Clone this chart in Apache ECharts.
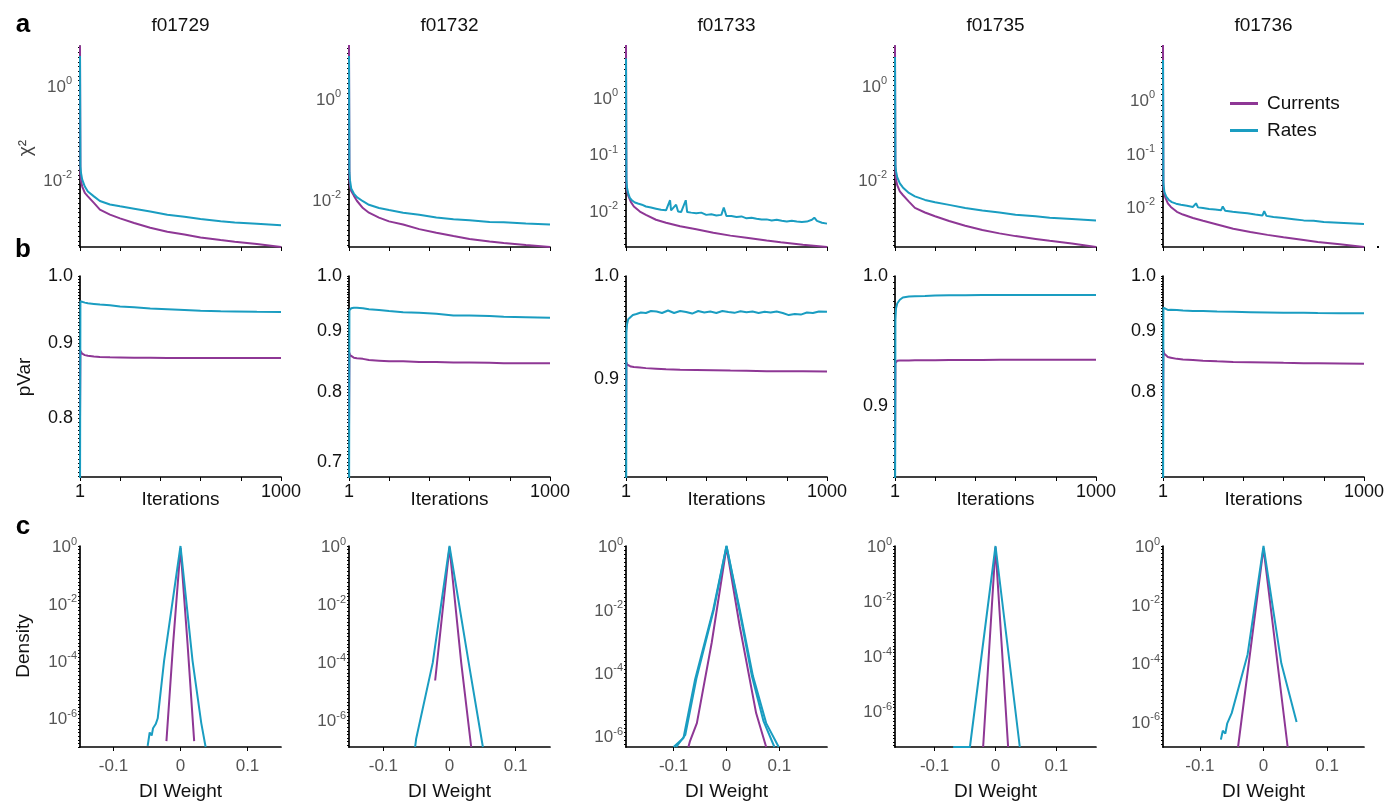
<!DOCTYPE html>
<html><head><meta charset="utf-8">
<script src="https://cdn.jsdelivr.net/npm/echarts@6/dist/echarts.min.js"></script>
<style>html,body{margin:0;padding:0;background:#fff}#c{width:1394px;height:806px}</style>
</head><body><div id="c"></div><script>
// ---------------- DATA ----------------
const titles = ['f01729', 'f01732', 'f01733', 'f01735', 'f01736'];
const seriesNames = ['Currents', 'Rates'];

// iteration grid shared by smooth curves
const iterGrid = [1, 3, 6, 12, 25, 40, 70, 100, 150, 200, 270, 350, 435, 520, 600, 700, 770, 880, 1000];

// row a: chi^2
const chi2Cur_f01729 = [7.0, 0.0126, 0.0093, 0.0071, 0.0052, 0.0044, 0.0032, 0.0023, 0.0018, 0.0015, 0.0012, 0.00095, 0.00078, 0.00068, 0.00059, 0.00052, 0.00048, 0.00043, 0.00037];
const chi2Rat_f01729 = [4.2, 0.019, 0.0138, 0.010, 0.0071, 0.0056, 0.0044, 0.0035, 0.00295, 0.0027, 0.0024, 0.0021, 0.0018, 0.00162, 0.00145, 0.0013, 0.00123, 0.00115, 0.00107];
const chi2Cur_f01732 = [12, 0.025, 0.019, 0.0148, 0.012, 0.0095, 0.0068, 0.0055, 0.0044, 0.0037, 0.0032, 0.0026, 0.0022, 0.0019, 0.00166, 0.00148, 0.00138, 0.00126, 0.00115];
const chi2Rat_f01732 = [7.0, 0.035, 0.024, 0.0166, 0.0132, 0.0112, 0.0093, 0.0079, 0.0068, 0.0062, 0.0055, 0.0050, 0.0044, 0.0041, 0.0039, 0.0036, 0.00355, 0.00335, 0.0032];
const chi2Cur_f01733 = [9, 0.028, 0.0224, 0.0182, 0.0141, 0.0117, 0.0095, 0.0083, 0.0068, 0.0060, 0.0052, 0.0046, 0.0040, 0.00355, 0.00325, 0.0029, 0.0027, 0.00245, 0.00224];
const chi2RatIter_f01733 = [1, 3, 6, 12, 20, 30, 45, 60, 80, 100, 125, 150, 175, 200, 220, 225, 250, 260, 275, 298, 305, 325, 350, 375, 400, 425, 450, 475, 487, 500, 525, 550, 575, 600, 625, 650, 675, 700, 725, 750, 775, 800, 825, 850, 875, 900, 925, 937, 950, 975, 1000];
const chi2Rat_f01733 = [5.0, 0.0355, 0.0251, 0.020, 0.0166, 0.0151, 0.0138, 0.0132, 0.0126, 0.0117, 0.0112, 0.0107, 0.0102, 0.0100, 0.0151, 0.0100, 0.0126, 0.0095, 0.0093, 0.0151, 0.0093, 0.0091, 0.0089, 0.0091, 0.0083, 0.0085, 0.0081, 0.0083, 0.0112, 0.0079, 0.0079, 0.0076, 0.0078, 0.0072, 0.0074, 0.0071, 0.0069, 0.0069, 0.0066, 0.0068, 0.0065, 0.0063, 0.0065, 0.0063, 0.0062, 0.0063, 0.0068, 0.0074, 0.0065, 0.0060, 0.0058];
const chi2Cur_f01735 = [7.1, 0.0141, 0.010, 0.0076, 0.0056, 0.0047, 0.0034, 0.0025, 0.0020, 0.00166, 0.00132, 0.00105, 0.00085, 0.00072, 0.00063, 0.00055, 0.00050, 0.00044, 0.00037];
const chi2Rat_f01735 = [4.0, 0.020, 0.0151, 0.0112, 0.0083, 0.0068, 0.0052, 0.0044, 0.0037, 0.0033, 0.0029, 0.0025, 0.0022, 0.0020, 0.0018, 0.00166, 0.00155, 0.00145, 0.00135];
const chi2Cur_f01736 = [11, 0.024, 0.019, 0.0151, 0.0117, 0.010, 0.0081, 0.0072, 0.0062, 0.0055, 0.0047, 0.0039, 0.0034, 0.0030, 0.0027, 0.0024, 0.0022, 0.0020, 0.00178];
const chi2RatIter_f01736 = [1, 3, 8, 17, 30, 45, 66, 90, 120, 150, 165, 175, 200, 230, 260, 290, 298, 310, 347, 380, 420, 460, 495, 504, 515, 550, 600, 650, 700, 750, 800, 850, 900, 950, 1000];
const chi2Rat_f01736 = [5.6, 0.0275, 0.019, 0.0155, 0.0135, 0.0123, 0.0115, 0.011, 0.0105, 0.010, 0.0117, 0.0098, 0.0095, 0.0091, 0.0089, 0.0087, 0.0102, 0.0085, 0.0081, 0.0079, 0.0076, 0.0072, 0.0069, 0.0083, 0.0068, 0.0065, 0.0062, 0.0059, 0.0056, 0.0055, 0.0052, 0.0051, 0.0050, 0.0049, 0.0048];

// row b: pVar
const pvCur_f01729 = [0.80, 0.889, 0.887, 0.885, 0.883, 0.882, 0.881, 0.8805, 0.880, 0.8798, 0.8795, 0.8793, 0.879, 0.879, 0.879, 0.879, 0.879, 0.879, 0.879];
const pvRat_f01729 = [0.70, 0.961, 0.960, 0.9595, 0.959, 0.958, 0.957, 0.956, 0.955, 0.953, 0.952, 0.950, 0.949, 0.948, 0.947, 0.946, 0.9458, 0.9453, 0.945];
const pvCur_f01732 = [0.75, 0.863, 0.859, 0.857, 0.855, 0.854, 0.853, 0.851, 0.850, 0.849, 0.849, 0.848, 0.848, 0.847, 0.847, 0.8465, 0.846, 0.846, 0.846];
const pvRat_f01732 = [0.60, 0.936, 0.939, 0.940, 0.941, 0.941, 0.940, 0.938, 0.937, 0.935, 0.933, 0.932, 0.930, 0.927, 0.927, 0.926, 0.925, 0.924, 0.923];
const pvCur_f01733 = [0.85, 0.916, 0.914, 0.913, 0.912, 0.9115, 0.911, 0.9105, 0.910, 0.9095, 0.909, 0.9088, 0.9086, 0.9082, 0.908, 0.9076, 0.9075, 0.9075, 0.9074];
const pvRatIter_f01733 = [1, 3, 6, 12, 20, 35, 53, 75, 100, 125, 153, 180, 210, 240, 270, 300, 330, 360, 390, 420, 450, 480, 510, 540, 570, 600, 630, 660, 690, 720, 750, 780, 810, 840, 870, 900, 930, 960, 1000];
const pvRat_f01733 = [0.70, 0.944, 0.952, 0.957, 0.958, 0.961, 0.962, 0.9635, 0.963, 0.965, 0.9645, 0.963, 0.9655, 0.963, 0.965, 0.964, 0.9625, 0.965, 0.9635, 0.9645, 0.963, 0.965, 0.964, 0.9632, 0.9648, 0.9638, 0.9645, 0.963, 0.9642, 0.9635, 0.9645, 0.963, 0.961, 0.962, 0.9615, 0.9635, 0.963, 0.9645, 0.9642];
const pvCur_f01735 = [0.86, 0.932, 0.9335, 0.9338, 0.934, 0.934, 0.934, 0.9341, 0.9342, 0.9342, 0.9343, 0.9344, 0.9344, 0.9345, 0.9345, 0.9345, 0.9346, 0.9346, 0.9346];
const pvRat_f01735 = [0.80, 0.965, 0.974, 0.978, 0.981, 0.9828, 0.9835, 0.9838, 0.984, 0.9843, 0.9845, 0.9846, 0.9847, 0.9847, 0.9848, 0.9848, 0.9848, 0.9848, 0.9848];
const pvCur_f01736 = [0.75, 0.868, 0.862, 0.859, 0.856, 0.855, 0.853, 0.852, 0.851, 0.850, 0.849, 0.848, 0.8475, 0.847, 0.8465, 0.846, 0.846, 0.8455, 0.845];
const pvRat_f01736 = [0.60, 0.941, 0.939, 0.938, 0.937, 0.9375, 0.937, 0.936, 0.935, 0.935, 0.934, 0.9335, 0.933, 0.9325, 0.932, 0.932, 0.9315, 0.931, 0.931];

// row c: density of DI weights, [weight, density]
const densCur_f01729 = [[-0.021, 1.6e-7], [-0.011, 4e-4], [0, 0.85], [0.0105, 4e-4], [0.0204, 1.6e-7]];
const densRat_f01729 = [[-0.049, 1.1e-7], [-0.046, 3.2e-7], [-0.043, 2.5e-7], [-0.041, 4.5e-7], [-0.037, 6.3e-7], [-0.034, 1e-6], [-0.0245, 1e-4], [0, 1], [0.018, 1e-4], [0.031, 6.8e-7], [0.0375, 1e-7]];
const densCur_f01732 = [[-0.0217, 2.3e-5], [-0.011, 4.5e-3], [0, 0.9], [0.0177, 9.5e-5], [0.0328, 1.17e-7]];
const densRat_f01732 = [[-0.052, 1.17e-7], [-0.0505, 2.2e-7], [-0.0253, 9.5e-5], [0, 1], [0.029, 9.5e-5], [0.0505, 1.17e-7]];
const densCur_f01733 = [[-0.072, 4.6e-7], [-0.069, 7.1e-7], [-0.056, 2.6e-6], [-0.028, 8.9e-4], [0, 0.9], [0.025, 2.95e-3], [0.056, 5.4e-6], [0.075, 4.6e-7]];
const densRat_f01733 = [[-0.1, 4.6e-7], [-0.0813, 8.9e-7], [-0.0594, 6.2e-5], [-0.025, 1e-2], [0, 1], [0.025, 1e-2], [0.05, 7.9e-5], [0.075, 2.6e-6], [0.0987, 4.6e-7]];
const densRat2_f01733 = [[-0.095, 4.6e-7], [-0.078, 1.1e-6], [-0.057, 6.5e-5], [-0.024, 1e-2], [0, 1], [0.024, 1e-2], [0.048, 8e-5], [0.07, 3e-6], [0.0906, 4.6e-7]];
const densCur_f01735 = [[-0.0203, 5e-8], [0, 0.9], [0.0207, 5e-8]];
const densRat_f01735 = [[-0.0695, 5e-8], [-0.042, 5e-8], [0, 1], [0.0399, 5e-8]];
const densCur_f01736 = [[-0.04, 1.4e-7], [0, 0.85], [0.038, 1.4e-7]];
const densRat_f01736 = [[-0.067, 2.5e-7], [-0.064, 5e-7], [-0.06, 4e-7], [-0.057, 9e-7], [-0.05, 2e-6], [-0.025, 2e-4], [0, 1], [0.028, 1e-4], [0.052, 1e-6]];

// axis ranges / tick labels
const chi2Min = [3.7e-4, 1.15e-3, 2.23e-3, 3.7e-4, 1.78e-3];
const chi2Max = [6.86, 11.1, 8.3, 6.86, 10.2];
const chi2Labels = [[1, 0.01], [1, 0.01], [1, 0.1, 0.01], [1, 0.01], [1, 0.1, 0.01]];
const pvMin = [0.729, 0.680, 0.815, 0.850, 0.680];
const pvLabels = [[0.8, 0.9, 1.0], [0.7, 0.8, 0.9, 1.0], [0.9, 1.0], [0.9, 1.0], [0.8, 0.9, 1.0]];
const densMin = [1e-7, 1.17e-7, 4.6e-7, 5e-8, 1.4e-7];
const densLabels = [1, 1e-2, 1e-4, 1e-6];
const wRange = [0.15, 0.152, 0.19, 0.165, 0.158];
const wLabels = [-0.1, 0, 0.1];
const iterTicks = [1, 200, 400, 600, 800, 1000];
const iterLabels = [1, 1000];

// ---------------- LAYOUT / STYLE ----------------
const FONT = "'Liberation Sans', Arial, sans-serif";
const PURPLE = '#8e3795', CYAN = '#1a9dc1';
const colLeft = [80, 349, 626, 895, 1163], colW = 201;
const rowTop = [46, 276, 546], rowH = 201;

function zip(xs, ys) { return xs.map((x, i) => [x, ys[i]]); }
function logSteps(min, max, step) {
  const a = Math.log10(min), b = Math.log10(max), out = [];
  for (let e = Math.ceil(a / step) * step; e <= b + 1e-9; e += step) out.push(Math.pow(10, e));
  return out;
}
function linSteps(min, max, step) {
  const out = [];
  for (let v = Math.ceil(min / step) * step; v <= max + 1e-9; v += step) out.push(+v.toFixed(4));
  return out;
}
const supRich = {
  b: { fontSize: 17, color: '#555', fontFamily: FONT, lineHeight: 20, verticalAlign: 'bottom' },
  s: { fontSize: 11, color: '#555', fontFamily: FONT, lineHeight: 11, verticalAlign: 'top' }
};
function supFmt(v) {
  const e = Math.round(Math.log10(v));
  return '{b|10}{s|' + e + '}';
}
const axisLine = { onZero: false, lineStyle: { color: '#000', width: 1.7 } };

const grids = [], xAxes = [], yAxes = [], series = [];
for (let r = 0; r < 3; r++) {
  for (let c = 0; c < 5; c++) {
    grids.push({ left: colLeft[c], top: rowTop[r], width: colW, height: rowH });
  }
}
const chi2Cur = [chi2Cur_f01729, chi2Cur_f01732, chi2Cur_f01733, chi2Cur_f01735, chi2Cur_f01736];
const chi2Rat = [zip(iterGrid, chi2Rat_f01729), zip(iterGrid, chi2Rat_f01732), zip(chi2RatIter_f01733, chi2Rat_f01733), zip(iterGrid, chi2Rat_f01735), zip(chi2RatIter_f01736, chi2Rat_f01736)];
const pvCur = [pvCur_f01729, pvCur_f01732, pvCur_f01733, pvCur_f01735, pvCur_f01736];
const pvRat = [zip(iterGrid, pvRat_f01729), zip(iterGrid, pvRat_f01732), zip(pvRatIter_f01733, pvRat_f01733), zip(iterGrid, pvRat_f01735), zip(iterGrid, pvRat_f01736)];
const densCur = [densCur_f01729, densCur_f01732, densCur_f01733, densCur_f01735, densCur_f01736];
const densRat = [[densRat_f01729], [densRat_f01732], [densRat_f01733, densRat2_f01733], [densRat_f01735], [densRat_f01736]];

function line(name, idx, data, color) {
  return { type: 'line', name, xAxisIndex: idx, yAxisIndex: idx, data, showSymbol: false, symbol: 'none',
    lineStyle: { color, width: 2 }, itemStyle: { color }, animation: false, clip: true };
}

for (let c = 0; c < 5; c++) {
  // row a
  let i = c;
  xAxes[i] = { gridIndex: i, type: 'value', min: 1, max: 1000, axisLine,
    axisTick: { customValues: iterTicks, length: 4, lineStyle: { color: '#000' } },
    axisLabel: { show: false }, splitLine: { show: false } };
  yAxes[i] = { gridIndex: i, type: 'log', logBase: 10, min: chi2Min[c], max: chi2Max[c], axisLine,
    axisTick: { customValues: logSteps(chi2Min[c], chi2Max[c], 0.1), length: 2, lineStyle: { color: '#000' } },
    axisLabel: { customValues: chi2Labels[c], formatter: supFmt, rich: supRich, margin: 8 },
    splitLine: { show: false } };
  series.push(line('Currents', i, zip(iterGrid, chi2Cur[c]), PURPLE));
  series.push(line('Rates', i, chi2Rat[c], CYAN));

  // row b
  i = 5 + c;
  xAxes[i] = { gridIndex: i, type: 'value', min: 1, max: 1000, axisLine,
    axisTick: { customValues: iterTicks, length: 4, lineStyle: { color: '#000' } },
    axisLabel: { customValues: iterLabels, formatter: v => String(Math.round(v)), fontSize: 18, color: '#111', fontFamily: FONT, margin: 6 },
    name: 'Iterations', nameLocation: 'middle', nameGap: 13, nameMoveOverlap: false,
    nameTextStyle: { fontSize: 19, color: '#111', fontFamily: FONT },
    splitLine: { show: false } };
  yAxes[i] = { gridIndex: i, type: 'log', logBase: 10, min: pvMin[c], max: 1.0, axisLine,
    axisTick: { customValues: linSteps(pvMin[c], 1.0, 0.005), length: 2, lineStyle: { color: '#000' } },
    axisLabel: { customValues: pvLabels[c], formatter: v => v.toFixed(1), fontSize: 18, color: '#111', fontFamily: FONT, margin: 7 },
    splitLine: { show: false } };
  series.push(line('Currents', i, zip(iterGrid, pvCur[c]), PURPLE));
  series.push(line('Rates', i, pvRat[c], CYAN));

  // row c
  i = 10 + c;
  xAxes[i] = { gridIndex: i, type: 'value', min: -wRange[c], max: wRange[c], axisLine,
    axisTick: { customValues: wLabels, length: 4, lineStyle: { color: '#000' } },
    axisLabel: { customValues: wLabels, formatter: v => (Math.abs(v) < 1e-9 ? '0' : v.toFixed(1)), fontSize: 17, color: '#555', fontFamily: FONT, margin: 11 },
    name: 'DI Weight', nameLocation: 'middle', nameGap: 35, nameMoveOverlap: false,
    nameTextStyle: { fontSize: 19, color: '#111', fontFamily: FONT },
    splitLine: { show: false } };
  yAxes[i] = { gridIndex: i, type: 'log', logBase: 10, min: densMin[c], max: 1, axisLine,
    axisTick: { customValues: logSteps(densMin[c], 1, 0.125), length: 2, lineStyle: { color: '#000' } },
    axisLabel: { customValues: densLabels, formatter: supFmt, rich: supRich, margin: 3 },
    splitLine: { show: false } };
  series.push(line('Currents', i, densCur[c], PURPLE));
  densRat[c].forEach(d => series.push(line('Rates', i, d, CYAN)));
}

const txt = (text, x, y, size, extra) => Object.assign({ type: 'text', x, y, silent: true,
  style: { text, font: size + 'px ' + FONT, fill: '#111', textAlign: 'center', align: 'center', textVerticalAlign: 'middle', verticalAlign: 'middle' } }, extra || {});
const graphics = [];
titles.forEach((t, c) => graphics.push(txt(t, colLeft[c] + colW / 2, 26, 19)));
[['a', 25], ['b', 250], ['c', 527]].forEach(([l, y]) => {
  const g = txt(l, 23, y, 26); g.style.font = 'bold 26px ' + FONT; g.style.fill = '#000'; graphics.push(g);
});
graphics.push(txt('χ²', 26, 148, 19, { rotation: Math.PI / 2 }));
graphics[graphics.length - 1].style.fill = '#444';
graphics.push(txt('pVar', 25, 377, 19, { rotation: Math.PI / 2 }));
graphics.push(txt('Density', 24, 646, 19, { rotation: Math.PI / 2 }));
graphics.push({ type: 'rect', shape: { x: 1377, y: 246, width: 2, height: 2 }, style: { fill: '#000' }, silent: true });

const option = {
  animation: false,
  backgroundColor: '#fff',
  textStyle: { fontFamily: FONT },
  grid: grids,
  xAxis: xAxes,
  yAxis: yAxes,
  series,
  legend: { data: seriesNames, orient: 'vertical', left: 1230, top: 94, padding: 0, itemGap: 8,
    icon: 'rect', itemWidth: 28, itemHeight: 3,
    textStyle: { fontSize: 19, color: '#111', fontFamily: FONT, padding: [0, 0, 0, 4] } },
  graphic: graphics
};
const chart = echarts.init(document.getElementById('c'), null, { renderer: 'canvas' });
chart.setOption(option);
</script></body></html>
